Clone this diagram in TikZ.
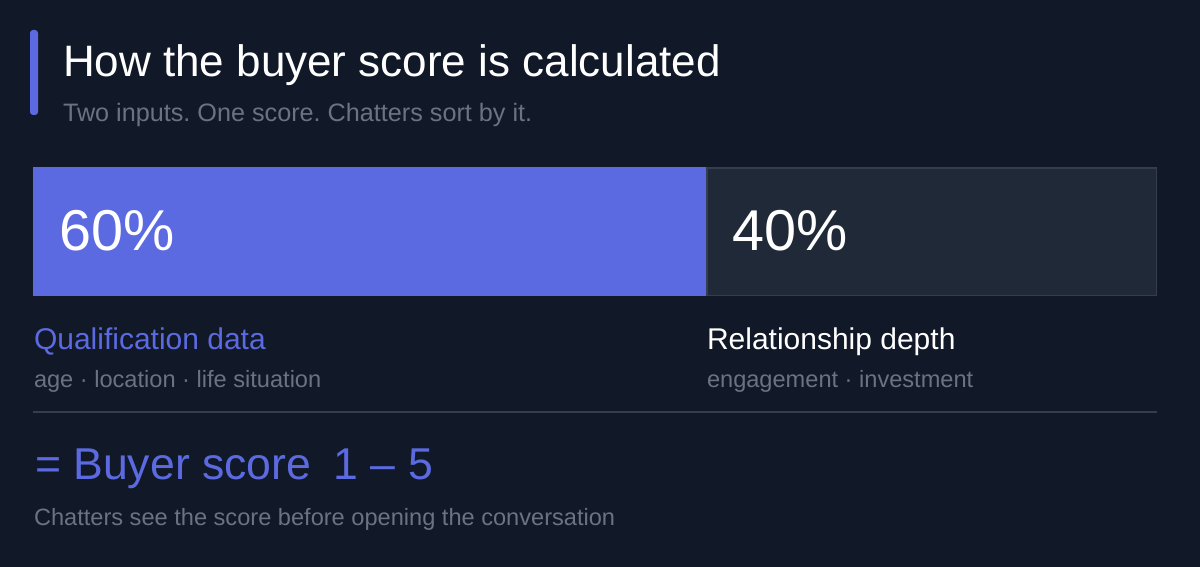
\documentclass[tikz,border=0pt]{standalone}
\usepackage{fontspec}
\setmainfont{Liberation Sans}
\frenchspacing
\definecolor{bg}{RGB}{17,24,39}
\definecolor{indigo}{RGB}{91,106,224}
\definecolor{panel}{RGB}{31,41,55}
\definecolor{edge}{RGB}{51,63,81}
\definecolor{muted}{RGB}{107,114,128}
\tikzset{
  txt/.style = {anchor=base west, inner sep=0pt, outer sep=0pt},
  headline/.style = {txt, white, font=\fontsize{22pt}{26pt}\selectfont},
  subline/.style = {txt, muted, font=\fontsize{12.6pt}{15pt}\selectfont},
  pct/.style = {txt, white, font=\fontsize{28.8pt}{32pt}\selectfont},
  label/.style = {txt, font=\fontsize{15pt}{18pt}\selectfont},
  hint/.style = {txt, muted, font=\fontsize{11.8pt}{14pt}\selectfont}
}

\begin{document}
\begin{tikzpicture}[x=0.5pt,y=-0.5pt]
  \fill[bg] (0,0) rectangle (1200,567);
  \useasboundingbox (0,0) rectangle (1200,567);
  % heading
  \fill[indigo,rounded corners=1.5pt] (30,30) rectangle (38,115);
  \node[headline] (title) at (63,77) {How the buyer score is calculated};
  \node[subline] (sub) at (63,122) {Two inputs. One score. Chatters sort by it.};
  % the two shares
  \fill[indigo] (33,167) rectangle (706,296);
  \draw[fill=panel,draw=edge,line width=0.75pt] (707,168) rectangle (1156.5,295.5);
  \node[pct] (qpct) at (59,250) {60\%};
  \node[pct] (rpct) at (732,250) {40\%};
  \node[label,indigo] (qual) at (34,349) {Qualification data};
  \node[hint] (qhint) at (34,387) {age · location · life situation};
  \node[label,white] (rel) at (707,349) {Relationship depth};
  \node[hint] (rhint) at (707,387) {engagement · investment};
  % result
  \draw[edge,line width=1pt] (33,412) -- (1157,412);
  \node[txt,indigo,font=\fontsize{22.3pt}{26pt}\selectfont] (score) at (35,479) {= Buyer score\hspace{0.5em}1 -- 5};
  \node[hint] (note) at (34,525) {Chatters see the score before opening the conversation};
\end{tikzpicture}
\end{document}
